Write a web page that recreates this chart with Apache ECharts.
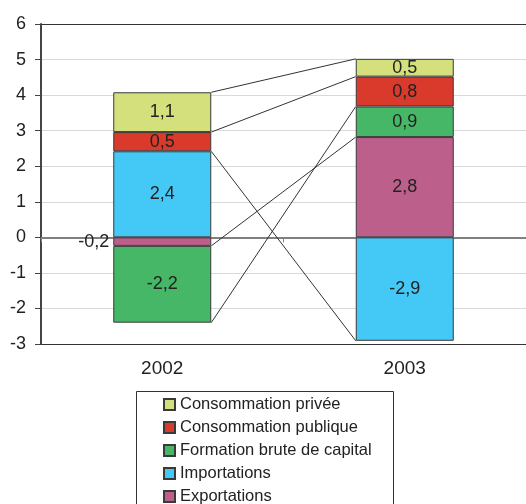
<!DOCTYPE html>
<html>
<head>
<meta charset="utf-8">
<style>
  html, body { margin: 0; padding: 0; background: #fff; }
  #main { width: 526px; height: 504px; }
</style>
<script src="https://cdn.jsdelivr.net/npm/echarts@6/dist/echarts.min.js"></script>
</head>
<body>
<div id="main"></div>
<script>
// contributions à la croissance, par année
var years = ['2002', '2003']
var importations = [2.42, -2.91]
var exportations = [-0.24, 2.82]
var formation = [-2.16, 0.86]
var consoPublique = [0.54, 0.84]
var consoPrivee = [1.12, 0.50]
var yMin = -3
var yMax = 6

var FONT = '"Liberation Sans", Arial, sans-serif'
var barWidth = 98

// ordre d'empilement (bas -> haut)
var stackOrder = [
  { name: 'Importations', data: importations, color: '#44c8f5' },
  { name: 'Exportations', data: exportations, color: '#bd5f8b' },
  { name: 'Formation brute de capital', data: formation, color: '#45b766' },
  { name: 'Consommation publique', data: consoPublique, color: '#d93a2b' },
  { name: 'Consommation privée', data: consoPrivee, color: '#d4e07c' }
]

function fmt(v) {
  return v.toFixed(1).replace('.', ',')
}

// extrémité de chaque segment empilé, pour les lignes de liaison
var ends = stackOrder.map(function () { return [] })
years.forEach(function (y, i) {
  var pos = 0
  var neg = 0
  stackOrder.forEach(function (s, k) {
    var v = s.data[i]
    if (v >= 0) {
      pos += v
      ends[k][i] = pos
    } else {
      neg += v
      ends[k][i] = neg
    }
  })
})

var series = stackOrder.map(function (s) {
  return {
    name: s.name,
    type: 'bar',
    stack: 'total',
    barWidth: barWidth,
    xAxisIndex: 0,
    itemStyle: { color: s.color, borderColor: '#3a3a3a', borderWidth: 1 },
    label: {
      show: true,
      position: 'inside',
      color: '#222',
      fontSize: 18,
      fontFamily: FONT,
      formatter: function (p) { return fmt(p.value) }
    },
    data: s.data.map(function (v) {
      // segment trop fin : étiquette à gauche
      if (Math.abs(v) < 0.3) {
        return { value: v, label: { position: 'left', distance: 4 } }
      }
      return v
    })
  }
})

series.push({
  type: 'custom',
  xAxisIndex: 0,
  silent: true,
  z: 1,
  encode: { x: 0, y: 1 },
  data: ends.map(function (e) { return [0, e[0], e[1]] }),
  renderItem: function (params, api) {
    var half = barWidth / 2
    var p1 = api.coord([0, api.value(1)])
    var p2 = api.coord([1, api.value(2)])
    return {
      type: 'line',
      shape: { x1: p1[0] + half, y1: p1[1], x2: p2[0] - half, y2: p2[1] },
      style: { stroke: '#333', lineWidth: 1 }
    }
  }
})

var myChart = echarts.init(document.getElementById('main'))
myChart.setOption({
  animation: false,
  textStyle: { fontFamily: FONT },
  grid: { left: 41, top: 24, width: 488, height: 320 },
  // cadre de la légende (il sort du bas de l'image)
  graphic: [{
    type: 'rect',
    left: 134,
    top: 389,
    shape: { width: 257, height: 150 },
    style: { fill: 'none', stroke: '#333', lineWidth: 1 }
  }],
  legend: {
    orient: 'vertical',
    left: 163,
    top: 396,
    height: 140,
    icon: 'rect',
    itemWidth: 11,
    itemHeight: 11,
    itemGap: 6,
    padding: 0,
    textStyle: { fontSize: 16.5, color: '#222', fontFamily: FONT },
    data: ['Consommation privée', 'Consommation publique', 'Formation brute de capital', 'Importations', 'Exportations']
  },
  xAxis: [
    {
      type: 'category',
      data: years,
      position: 'bottom',
      axisLine: { onZero: false, lineStyle: { color: '#333', width: 1 } },
      axisTick: { show: false },
      axisLabel: { fontSize: 19, color: '#222', margin: 15, fontFamily: FONT }
    },
    {
      type: 'category',
      data: years,
      position: 'bottom',
      axisLine: { onZero: true, lineStyle: { color: '#808080', width: 2 } },
      axisTick: { show: true, length: 5, lineStyle: { color: '#808080' } },
      axisLabel: { show: false }
    },
    {
      type: 'category',
      data: years,
      position: 'top',
      axisLine: { onZero: false, lineStyle: { color: '#333', width: 1 } },
      axisTick: { show: false },
      axisLabel: { show: false }
    }
  ],
  yAxis: {
    type: 'value',
    min: yMin,
    max: yMax,
    interval: 1,
    axisLine: { show: true, lineStyle: { color: '#444', width: 2 } },
    axisTick: { show: true, length: 6, lineStyle: { color: '#444' } },
    splitLine: { lineStyle: { color: '#d9d9d9' } },
    axisLabel: { fontSize: 18, color: '#222', margin: 15, fontFamily: FONT }
  },
  series: series
})
</script>
</body>
</html>
